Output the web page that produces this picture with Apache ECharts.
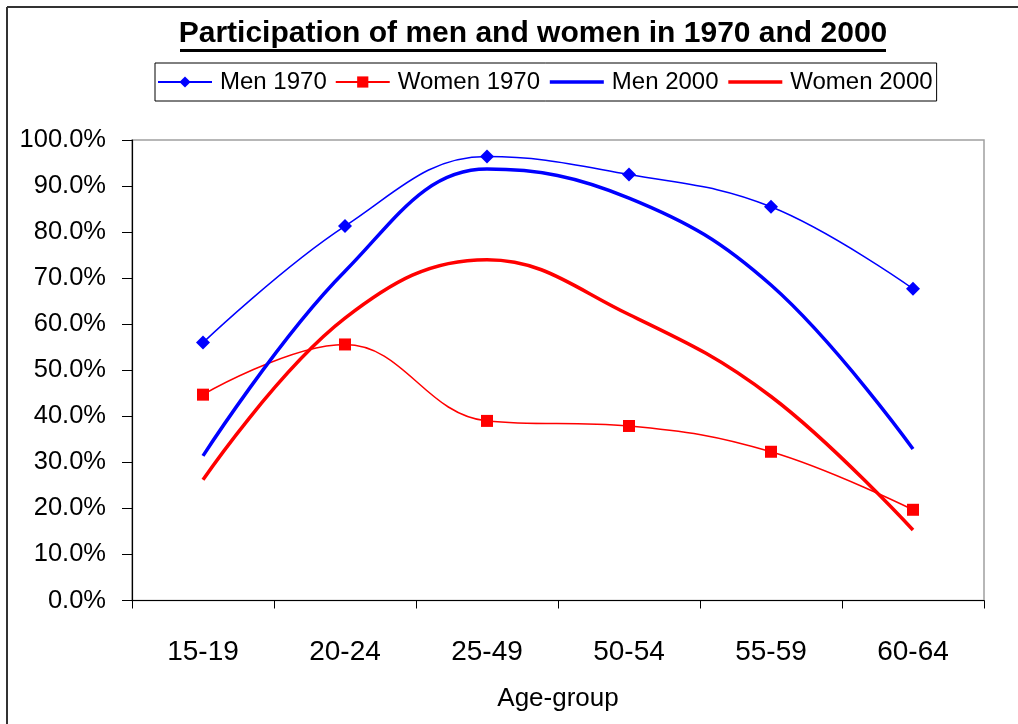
<!DOCTYPE html>
<html>
<head>
<meta charset="utf-8">
<style>
html,body{margin:0;padding:0;background:#fff;}
#chart{width:1018px;height:724px;}
</style>
<script src="https://cdn.jsdelivr.net/npm/echarts@6/dist/echarts.min.js"></script>
</head>
<body>
<div id="chart"></div>
<script>
var categories = ['15-19', '20-24', '25-49', '50-54', '55-59', '60-64'];
var men1970 = [56.0, 81.3, 96.4, 92.5, 85.5, 67.7];
var women1970 = [44.7, 55.6, 39.0, 37.9, 32.3, 19.7];
var men2000 = [31.4, 71.5, 93.7, 87.4, 68.5, 32.9];
var women2000 = [26.2, 61.3, 74.0, 62.1, 44.3, 15.3];
var titleText = 'Participation of men and women in 1970 and 2000';
var xAxisTitle = 'Age-group';

var FONT = '"Liberation Sans", Arial, sans-serif';
var chart = echarts.init(document.getElementById('chart'), null, {renderer: 'canvas'});
chart.setOption({
  backgroundColor: '#ffffff',
  animation: false,
  graphic: [
    {type: 'line', shape: {x1: 7, y1: 7, x2: 1018, y2: 7}, style: {stroke: '#333', lineWidth: 2}},
    {type: 'line', shape: {x1: 7, y1: 7, x2: 7, y2: 724}, style: {stroke: '#333', lineWidth: 2}},
    {type: 'text', x: 533, y: 19, style: {text: titleText, font: 'bold 30px ' + FONT, fill: '#000', textAlign: 'center', textVerticalAlign: 'top'}},
    {type: 'rect', shape: {x: 180, y: 49, width: 706, height: 3}, style: {fill: '#000'}}
  ],
  legend: {
    left: 155, top: 63,
    width: 800,
    padding: [7, 4, 7, 2],
    itemGap: 8,
    itemWidth: 54,
    itemHeight: 14,
    borderColor: '#000', borderWidth: 1,
    textStyle: {fontFamily: FONT, fontSize: 24, color: '#000', padding: [0, 0, 0, 3]},
    data: [
      {name: 'Men 1970'},
      {name: 'Women 1970'},
      {name: 'Men 2000', itemStyle: {opacity: 0}, lineStyle: {width: 3.5}},
      {name: 'Women 2000', itemStyle: {opacity: 0}, lineStyle: {width: 3.5}}
    ]
  },
  grid: {left: 132, right: 34, top: 140, bottom: 123.5, show: true, borderColor: '#a0a0a0', borderWidth: 1.5, containLabel: false},
  xAxis: {
    type: 'category', data: categories, boundaryGap: true,
    name: xAxisTitle, nameLocation: 'middle', nameGap: 85,
    nameTextStyle: {fontFamily: FONT, fontSize: 26, color: '#000'},
    axisLine: {lineStyle: {color: '#000', width: 1.2}},
    axisTick: {show: true, length: 8, alignWithLabel: false, lineStyle: {color: '#000'}},
    axisLabel: {fontFamily: FONT, fontSize: 28, color: '#000', margin: 38}
  },
  yAxis: {
    type: 'value', min: 0, max: 100, interval: 10,
    axisLine: {show: true, lineStyle: {color: '#000', width: 1.2}},
    axisTick: {show: true, length: 10, lineStyle: {color: '#000'}},
    splitLine: {show: false},
    axisLabel: {fontFamily: FONT, fontSize: 25.5, color: '#000', margin: 26, formatter: function (v) { return v.toFixed(1) + '%'; }}
  },
  series: [
    {name: 'Men 1970', type: 'line', data: men1970, smooth: 0.4, color: '#0000ff',
     symbol: 'diamond', symbolSize: 14, lineStyle: {width: 1.5, color: '#0000ff'}, itemStyle: {color: '#0000ff'}},
    {name: 'Women 1970', type: 'line', data: women1970, smooth: 0.4, color: '#ff0000',
     symbol: 'rect', symbolSize: 12, lineStyle: {width: 1.5, color: '#ff0000'}, itemStyle: {color: '#ff0000'}},
    {name: 'Men 2000', type: 'line', data: men2000, smooth: 0.4, color: '#0000ff',
     symbol: 'none', lineStyle: {width: 3.5, color: '#0000ff'}, itemStyle: {color: '#0000ff'}},
    {name: 'Women 2000', type: 'line', data: women2000, smooth: 0.4, color: '#ff0000',
     symbol: 'none', lineStyle: {width: 3.5, color: '#ff0000'}, itemStyle: {color: '#ff0000'}}
  ]
});
</script>
</body>
</html>
